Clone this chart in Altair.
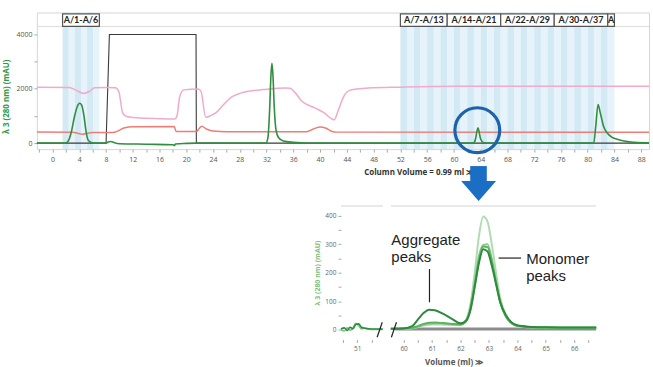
import altair as alt
import pandas as pd

# ---------------- top run (column volume, ml) ----------------
blk_x = [-2.34, 8.0, 8.5, 21.45, 21.5, 89.17]
blk_v = [0, 0, 4000, 4000, 0, 0]

pink_x = [-2.34, 2.5, 3.5, 4.6, 5.5, 6.3, 8.0, 9.4, 9.9, 10.5, 11.1, 12.5, 16.0, 18.3, 18.6, 19.0,
          19.6, 21.8, 22.2, 22.9, 23.6, 24.4, 25.5, 26.8, 28.0, 29.3, 31.5, 34.8, 35.5, 36.3, 37.2,
          39.2, 40.5, 41.7, 42.1, 42.7, 43.5, 44.4, 45.5, 47.2, 52.0, 60.0, 89.17]
pink_v = [2060, 2050, 1950, 1830, 1900, 2040, 2050, 2040, 1900, 1100, 980, 930, 900, 890, 1000, 1700,
          1960, 1990, 1900, 950, 1010, 1110, 1400, 1700, 1830, 1910, 1970, 2030, 2020, 1850, 1560,
          1300, 1130, 900, 860, 1200, 1700, 1940, 1990, 2030, 2060, 2090, 2090]

red_x = [-2.34, 3.0, 4.5, 6.0, 9.0, 9.8, 10.8, 12.0, 18.2, 18.45, 21.5, 21.9, 22.3, 23.0, 24.0, 26.0,
         38.0, 39.0, 40.0, 40.8, 41.7, 42.5, 89.17]
red_v = [410, 400, 330, 390, 390, 450, 570, 600, 615, 430, 425, 530, 620, 520, 450, 420,
         420, 520, 590, 560, 440, 405, 400]

grn_x = [-2.34, 1.9, 2.3, 2.8, 3.3, 3.7, 4.05, 4.35, 4.7, 5.0, 5.3, 5.8, 6.5, 8.0, 8.3, 8.7, 9.2, 10.0,
         14.0, 18.0, 18.2, 18.4, 20.0, 21.5, 31.9, 32.2, 32.45, 32.65, 32.8, 32.95, 33.15, 33.4, 33.8,
         34.5, 36.0, 38.0, 62.9, 63.2, 63.6, 64.0, 64.4, 65.0, 80.9, 81.2, 81.55, 81.9, 82.4, 82.9,
         83.6, 84.4, 85.4, 87.0, 89.17]
grn_v = [0, 0, 60, 400, 1000, 1350, 1470, 1400, 1000, 450, 120, 20, 0, 0, 40, 60, 20, -20,
         -40, -60, -90, -30, -10, 0, 0, 200, 1200, 2500, 2940, 2500, 1300, 500, 200,
         80, 30, 0, 0, 120, 560, 150, 20, 0, 0, 600, 1420, 1100, 600, 380,
         220, 145, 75, 30, 10]

# fractions
frac_start = [1.5, 2.42, 3.33, 4.25, 5.17, 6.08,
              52, 53, 54, 55, 56, 57, 58, 59, 60, 61, 62, 63, 64, 65, 66, 67,
              68, 69, 70, 71, 72, 73, 74, 75, 76, 77, 78, 79, 80, 81, 82, 83]
frac_end = [2.42, 3.33, 4.25, 5.17, 6.08, 7.0,
            53, 54, 55, 56, 57, 58, 59, 60, 61, 62, 63, 64, 65, 66, 67, 68,
            69, 70, 71, 72, 73, 74, 75, 76, 77, 78, 79, 80, 81, 82, 83, 84]
hdr_labels = ["A/1-A/6", "A/7-A/13", "A/14-A/21", "A/22-A/29", "A/30-A/37", "A"]
hdr_start = [1.5, 52, 59, 67, 75, 83]
hdr_end = [7.0, 59, 67, 75, 83, 84]

top_xticks = [-2, 0, 2, 4, 6, 8, 10, 12, 14, 16, 18, 20, 22, 24, 26, 28, 30, 32, 34, 36, 38, 40, 42, 44,
              46, 48, 50, 52, 54, 56, 58, 60, 62, 64, 66, 68, 70, 72, 74, 76, 78, 80, 82, 84, 86, 88]
top_yticks = [0, 1000, 2000, 3000, 4000]

# ---------------- inset (volume, ml) ----------------
ins_x = [59.55, 60.0, 60.3, 60.5, 60.7, 60.9, 61.1, 61.4, 61.7, 62.0, 62.2, 62.35, 62.5, 62.65, 62.8,
         62.95, 63.1, 63.25, 63.4, 63.6, 63.8, 64.0, 64.4, 65.0, 66.0, 66.77]
ins_dark = [3, 4, 12, 35, 58, 70, 68, 55, 38, 22, 32, 70, 150, 235, 283, 275, 225, 160, 95, 50, 25, 15, 10, 8, 7, 7]
ins_med = [3, 4, 6, 12, 20, 24, 25, 23, 20, 18, 30, 70, 155, 245, 292, 290, 240, 165, 95, 45, 22, 13, 9, 7, 6, 6]
ins_light = [3, 3, 5, 10, 17, 21, 22, 21, 19, 17, 32, 80, 170, 260, 298, 300, 248, 170, 98, 46, 22, 13, 9, 7, 6, 6]
ins_vlight = [3, 3, 5, 9, 14, 17, 18, 17, 16, 17, 35, 90, 200, 330, 398, 380, 300, 200, 110, 50, 22, 12, 8, 6, 6, 6]

left_x = [50.43, 50.55, 50.65, 50.75, 50.85, 50.95, 51.05, 51.15, 51.25, 51.4, 51.6, 51.9]
left_dark = [2, 6, -3, 8, 3, 18, 20, 8, 5, 3, 2, 2]
left_light = [0, -5, 6, -2, 5, 22, 14, 2, 6, 1, 0, 0]

base_x = [59.7, 66.77]
base_v = [2, 2]

left_ticks = [50.5, 51, 51.5]
right_ticks = [60, 60.5, 61, 61.5, 62, 62.5, 63, 63.5, 64, 64.5, 65, 65.5, 66, 66.5]
ins_yticks = [0, 50, 100, 150, 200, 250, 300, 350, 400]

ann_text = ["Aggregate", "peaks", "Monomer", "peaks"]
ann_x = [59.57, 59.57, 64.31, 64.31]
ann_y = [297, 236, 230.5, 172]
ann_line_x = [60.91, 63.34]
ann_line_x2 = [60.91, 64.13]
ann_line_y = [213, 251.6]
ann_line_y2 = [96, 251.6]

FONT = "Open Sans"
GREEN = "#2f8f3f"
INT_LABEL = "round(datum.value) == datum.value ? format(datum.value, 'd') : ''"

# ---------------- top chart ----------------
TXS = alt.Scale(domain=[-2.34, 89.17], nice=False, zero=False)
TYS = alt.Scale(domain=[-220, 4807], nice=False, zero=False)
top_xax = alt.Axis(values=top_xticks, labelExpr="datum.value % 4 == 0 ? datum.label : ''", format="d",
                   grid=False, domain=False, tickColor="#aaaaaa", tickSize=3, labelColor="#555555",
                   labelFontSize=7, labelFont=FONT, labelPadding=3, labelOverlap=False,
                   title="Column Volume  = 0.99 ml ≫", titleFont=FONT, titleFontSize=8,
                   titleFontWeight="bold", titleColor="#333333", titleX=383, titleY=23,
                   titleAlign="center", titleBaseline="middle")
top_yax = alt.Axis(values=top_yticks, labelExpr="datum.value % 2000 == 0 ? datum.label : ''", format="d",
                   grid=False, domain=False, tickColor="#aaaaaa", tickSize=3, labelColor="#555555",
                   labelFontSize=7, labelFont=FONT, labelPadding=2, labelOverlap=False,
                   title="λ 3 (280 nm) (mAU)", titleFont=FONT, titleColor="#2f9a3f", titleFontSize=8,
                   titleFontWeight="bold", titleX=-30, titleY=84, titleBaseline="middle",
                   titleAlign="center", titleAngle=270)


def tx(f):
    return alt.X(f, type="quantitative", scale=TXS, axis=top_xax)


def ty(f):
    return alt.Y(f, type="quantitative", scale=TYS, axis=top_yax)


frac_df = pd.DataFrame({"s": frac_start, "e": frac_end})
frac_df["shade"] = [i % 2 for i in range(len(frac_df))]
stripes = alt.Chart(frac_df).mark_rect().encode(
    x=tx("s"), x2="e",
    color=alt.Color("shade:N", scale=alt.Scale(domain=[0, 1], range=["#d3e9f4", "#e6f3fa"]), legend=None),
)

hdr_rule = alt.Chart(pd.DataFrame({"y": [4294]})).mark_rule(color="#dddddd", strokeWidth=1).encode(y=ty("y"))


def top_line(xs, vs, color, width, interp="monotone"):
    return alt.Chart(pd.DataFrame({"x": xs, "v": vs})).mark_line(
        color=color, strokeWidth=width, interpolate=interp).encode(x=tx("x"), y=ty("v"), order="x:Q")


black = top_line(blk_x, blk_v, "#3a3a3a", 1.1, "linear")
pink = top_line(pink_x, pink_v, "#f3a9cb", 1.5)
red = top_line(red_x, red_v, "#ee7d78", 1.5)
green = top_line(grn_x, grn_v, GREEN, 1.6)

hdr_df = pd.DataFrame({"s": hdr_start, "e": hdr_end, "label": hdr_labels})
hdr_df["mid"] = (hdr_df["s"] + hdr_df["e"]) / 2
hdr_df["y0"] = 4294
hdr_df["y1"] = 4760
hdr_df["ym"] = 4527
hdr_boxes = alt.Chart(hdr_df).mark_rect(fill="white", stroke="#555555", strokeWidth=1.2).encode(
    x=tx("s"), x2="e", y=ty("y0"), y2="y1")
hdr_text = alt.Chart(hdr_df).mark_text(font="Lato", fontWeight="bold", fontSize=9, color="#222222",
                                       baseline="middle", align="center").encode(
    x=tx("mid"), y=ty("ym"), text="label:N")

circ = alt.Chart(pd.DataFrame({"x": [63.5], "y": [477]})).mark_point(
    shape="circle", size=2025, filled=False, stroke="#1c63ab", strokeWidth=3.2, opacity=1).encode(
    x=tx("x"), y=ty("y"))
stem = alt.Chart(pd.DataFrame({"x": [62.44], "x2": [64.92], "y": [-844], "y2": [-1394]})).mark_rect(
    color="#1a6fc4", clip=False).encode(x=tx("x"), x2="x2", y=ty("y"), y2="y2")
head = alt.Chart(pd.DataFrame({"x": [63.7], "y": [-1761]})).mark_point(
    shape="M -1 -0.571 L 1 -0.571 L 0 0.571 Z", size=1225, filled=True, color="#1a6fc4",
    opacity=1, clip=False).encode(x=tx("x"), y=ty("y"))

top = alt.layer(stripes, hdr_rule, black, pink, red, green, hdr_boxes, hdr_text, circ, stem, head).properties(
    width=614, height=137, view=alt.ViewBackground(stroke="#d6d6d6"))

# ---------------- inset ----------------
IYS = alt.Scale(domain=[-35, 435], nice=False, zero=False)
LXS = alt.Scale(domain=[50.43, 51.9], nice=False, zero=False)
RXS = alt.Scale(domain=[59.55, 66.77], nice=False, zero=False)

ax_common = dict(grid=False, domain=False, tickColor="#aaaaaa", tickSize=3, labelColor="#666666",
                 labelFontSize=6.5, labelFont=FONT, labelOverlap=False, labelFlush=False)
lx_ax = alt.Axis(values=left_ticks, labelExpr=INT_LABEL, labelPadding=3, title="", **ax_common)
rx_ax = alt.Axis(values=right_ticks, labelExpr=INT_LABEL, labelPadding=3,
                 title="Volume (ml) ≫", titleFont=FONT, titleFontSize=8, titleFontWeight="bold",
                 titleColor="#555555", titleX=63, titleY=23, titleAlign="center", titleBaseline="middle",
                 **ax_common)
iy_ax = alt.Axis(values=ins_yticks, labelExpr="datum.value % 100 == 0 ? datum.label : ''", labelPadding=2,
                 title="λ 3 (280 nm) (mAU)", titleFont=FONT, titleFontSize=7, titleFontWeight="bold",
                 titleColor="#7fbf7f", titleX=-24, titleY=67, titleBaseline="middle", titleAlign="center",
                 titleAngle=270, format="d", **ax_common)


def lx(f):
    return alt.X(f, type="quantitative", scale=LXS, axis=lx_ax)


def ly(f):
    return alt.Y(f, type="quantitative", scale=IYS, axis=iy_ax)


def rx(f):
    return alt.X(f, type="quantitative", scale=RXS, axis=rx_ax)


def ry(f):
    return alt.Y(f, type="quantitative", scale=IYS, axis=None)


top_edge = pd.DataFrame({"y": [435]})

l_rule = alt.Chart(top_edge).mark_rule(color="#e2e2e2", strokeWidth=1.5).encode(y=ly("y"))
l_light = alt.Chart(pd.DataFrame({"x": left_x, "v": left_light})).mark_line(
    color="#7cc47e", strokeWidth=1.6, interpolate="monotone").encode(x=lx("x"), y=ly("v"))
l_dark = alt.Chart(pd.DataFrame({"x": left_x, "v": left_dark})).mark_line(
    color="#2e8b3e", strokeWidth=1.6, interpolate="monotone").encode(x=lx("x"), y=ly("v"))
l_slash = alt.Chart(pd.DataFrame({"x": [51.70], "x2": [51.88], "y": [-27], "y2": [25.6]})).mark_rule(
    color="#222222", strokeWidth=1.2, clip=False).encode(x=lx("x"), x2="x2", y=ly("y"), y2="y2")
inset_left = alt.layer(l_rule, l_light, l_dark, l_slash).properties(width=42, height=134)

r_rule = alt.Chart(top_edge).mark_rule(color="#e2e2e2", strokeWidth=1.5).encode(y=ry("y"))
r_base = alt.Chart(pd.DataFrame({"x": base_x, "v": base_v})).mark_line(
    color="#8c8c8c", strokeWidth=3).encode(x=rx("x"), y=ry("v"))


def ins_line(vals, color, width):
    return alt.Chart(pd.DataFrame({"x": ins_x, "v": vals})).mark_line(
        color=color, strokeWidth=width, interpolate="monotone").encode(x=rx("x"), y=ry("v"))


r_vlight = ins_line(ins_vlight, "#b2dbb3", 2.0)
r_light = ins_line(ins_light, "#8ccb8e", 2.0)
r_med = ins_line(ins_med, "#5fb162", 2.0)
r_dark = ins_line(ins_dark, "#2e8b3e", 2.0)
r_slash = alt.Chart(pd.DataFrame({"x": [59.57], "x2": [59.75], "y": [-27], "y2": [25.6]})).mark_rule(
    color="#222222", strokeWidth=1.2, clip=False).encode(x=rx("x"), x2="x2", y=ry("y"), y2="y2")
ann_df = pd.DataFrame({"x": ann_x, "y": ann_y, "t": ann_text})
r_text = alt.Chart(ann_df).mark_text(align="left", baseline="alphabetic", font="Liberation Sans",
                                     fontSize=15, color="#222222", clip=False).encode(
    x=rx("x"), y=ry("y"), text="t:N")
ann_lines = pd.DataFrame({"x": ann_line_x, "x2": ann_line_x2, "y": ann_line_y, "y2": ann_line_y2})
r_lines = alt.Chart(ann_lines).mark_rule(color="#222222", strokeWidth=1.2).encode(
    x=rx("x"), x2="x2", y=ry("y"), y2="y2")
inset_right = alt.layer(r_rule, r_base, r_vlight, r_light, r_med, r_dark, r_slash, r_text, r_lines).properties(
    width=206, height=134)

spacer = alt.Chart(pd.DataFrame({"a": [0]})).mark_point(opacity=0).encode(
    x=alt.X("a:Q", axis=None), y=alt.Y("a:Q", axis=None)).properties(width=297, height=134)

bottom = alt.hconcat(spacer, inset_left, inset_right, spacing=8, bounds="flush")

chart = alt.vconcat(top, bottom, spacing=57, bounds="flush").properties(
    padding={"left": 2, "top": 11, "right": 0, "bottom": 0}
).configure(font=FONT).configure_view(stroke="transparent")

chart.save("out.html", embed_options={"renderer": "svg", "actions": False})
